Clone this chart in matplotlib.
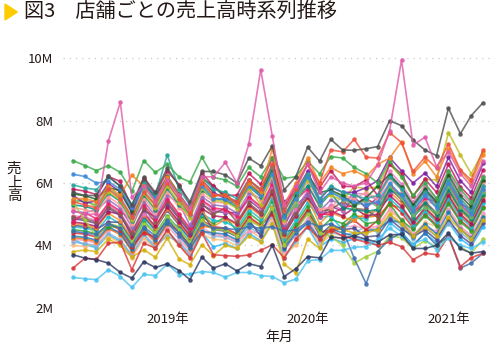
import matplotlib
matplotlib.use("Agg")
import matplotlib.pyplot as plt
import matplotlib.dates as mdates
import pandas as pd
from matplotlib.patches import Polygon
from matplotlib.ticker import FuncFormatter

# monthly sales per store, in millions (Apr 2018 - Mar 2021)
months = pd.date_range("2018-04-01", periods=36, freq="MS") + pd.offsets.MonthEnd(0)

green_top = [6.72, 6.56, 6.40, 6.56, 6.34, 5.73, 6.72, 6.34, 6.60, 6.19, 6.03, 6.83,
             6.18, 6.10, 5.90, 6.50, 6.20, 6.80, 6.15, 6.20, 6.70, 6.30, 6.85, 6.80,
             6.50, 6.30, 6.00, 6.70, 6.20, 5.60, 6.00, 5.50, 6.40, 5.80, 5.40, 6.20]
blue_top = [6.28, 6.21, 6.00, 6.05, 5.80, 5.20, 5.90, 5.50, 6.10, 5.60, 5.10, 5.90,
            5.50, 5.50, 5.30, 5.90, 5.60, 6.30, 4.90, 5.50, 6.20, 5.40, 5.70, 5.50,
            5.40, 5.30, 5.40, 6.00, 5.60, 5.10, 5.60, 5.20, 6.00, 5.40, 5.00, 5.80]
teal = [5.94, 5.84, 5.79, 6.20, 5.90, 5.30, 6.00, 5.60, 6.90, 5.80, 5.30, 6.20,
        5.80, 5.70, 5.50, 6.10, 5.80, 6.50, 5.10, 5.70, 6.30, 5.50, 5.90, 5.70,
        5.60, 5.50, 5.60, 6.20, 5.80, 5.20, 5.70, 5.30, 6.10, 5.50, 5.10, 5.90]
pink_spike = [5.10, 5.00, 5.00, 7.35, 8.59, 5.55, 5.90, 5.40, 6.10, 5.60, 5.20, 6.20,
              6.20, 6.66, 6.00, 7.24, 9.64, 7.51, 5.30, 5.90, 6.60, 5.70, 6.20, 6.00,
              5.90, 6.00, 6.58, 7.68, 9.95, 7.22, 7.47, 6.53, 7.00, 6.30, 5.90, 6.70]
gray_top = [5.70, 5.60, 5.60, 6.21, 5.90, 5.30, 6.18, 5.70, 6.48, 5.90, 5.40, 6.37,
            6.37, 6.26, 6.00, 6.80, 6.55, 7.19, 5.78, 6.20, 7.15, 6.70, 7.40, 7.06,
            7.05, 7.10, 7.17, 8.00, 7.84, 7.38, 7.06, 6.88, 8.40, 7.58, 8.16, 8.58]
red_top = [5.40, 5.30, 5.20, 5.80, 5.50, 4.90, 5.70, 5.30, 6.00, 5.50, 5.00, 6.00,
           5.60, 5.60, 5.40, 6.10, 5.80, 6.60, 5.10, 5.80, 6.60, 6.00, 7.06, 7.00,
           7.40, 6.83, 6.80, 7.62, 7.30, 6.37, 6.83, 6.48, 7.26, 6.42, 6.10, 7.06]
orange = [5.50, 5.50, 5.40, 5.90, 5.60, 6.25, 5.90, 5.40, 6.20, 5.60, 5.10, 6.10,
          5.60, 5.60, 5.30, 6.00, 5.70, 7.10, 5.30, 6.00, 6.80, 6.00, 6.50, 6.30,
          6.40, 6.20, 6.60, 6.80, 7.33, 6.30, 6.70, 6.20, 7.10, 6.40, 6.00, 6.90]
navy = [3.70, 3.59, 3.54, 3.43, 3.13, 2.95, 3.48, 3.29, 3.41, 3.19, 2.90, 3.62,
        3.27, 3.41, 3.18, 3.41, 3.32, 4.00, 3.00, 3.25, 3.64, 3.60, 4.27, 4.23,
        4.30, 4.20, 4.10, 4.34, 4.35, 3.90, 3.90, 4.00, 4.40, 3.90, 3.75, 3.80]
light_blue = [2.97, 2.93, 2.90, 3.22, 3.00, 2.65, 3.07, 3.03, 3.40, 3.06, 3.08, 3.16,
              3.13, 2.98, 3.13, 3.13, 3.03, 3.00, 2.80, 2.92, 3.51, 3.54, 3.84, 3.84,
              3.94, 3.96, 4.20, 4.55, 4.30, 4.05, 4.20, 3.86, 4.25, 4.00, 3.90, 4.10]
red_low = [3.27, 3.59, 3.55, 4.07, 4.10, 3.22, 4.07, 3.91, 4.50, 4.00, 3.60, 4.40,
           3.70, 3.67, 3.65, 3.69, 3.84, 4.02, 3.60, 4.20, 4.60, 4.20, 4.50, 4.30,
           4.20, 4.10, 4.00, 4.10, 3.96, 3.54, 3.75, 3.70, 4.30, 3.32, 3.60, 3.75]
steel = [4.45, 4.40, 4.35, 4.70, 4.55, 4.00, 4.60, 4.30, 4.80, 4.40, 4.00, 4.70,
         4.55, 4.55, 4.50, 4.60, 4.55, 4.60, 4.45, 4.50, 4.75, 4.60, 4.70, 4.50,
         3.59, 2.77, 3.80, 4.20, 4.40, 4.00, 4.40, 4.00, 4.29, 3.27, 3.43, 3.75]
lime = [5.40, 4.80, 4.30, 4.70, 4.60, 4.10, 4.70, 4.40, 4.90, 4.50, 4.10, 4.80,
        4.50, 4.50, 4.30, 4.80, 4.60, 5.20, 4.00, 4.50, 5.00, 4.40, 4.29, 4.00,
        3.43, 3.64, 3.80, 4.30, 4.25, 3.90, 4.15, 3.95, 4.30, 3.95, 3.75, 4.20]
gold = [3.80, 3.85, 3.80, 4.20, 4.00, 3.62, 3.86, 3.62, 4.23, 3.56, 3.38, 4.02,
        3.67, 4.00, 3.90, 4.30, 4.10, 4.70, 3.40, 3.11, 4.20, 3.90, 4.60, 4.50,
        4.40, 4.40, 4.50, 5.00, 4.70, 4.30, 4.60, 4.30, 4.90, 4.50, 4.20, 4.80]

store_a = [5.80, 5.74, 5.63, 6.21, 6.05, 5.22, 6.15, 5.63, 6.38, 5.95, 5.28, 6.32,
           5.90, 5.60, 5.61, 6.31, 5.96, 6.79, 5.19, 5.90, 6.61, 5.85, 6.40, 5.90,
           5.88, 6.10, 5.60, 6.60, 6.30, 5.58, 6.12, 5.70, 6.60, 5.88, 5.52, 6.42]
store_b = [5.60, 5.35, 5.43, 5.99, 5.71, 5.04, 5.94, 5.60, 6.16, 5.60, 5.10, 6.10,
           5.70, 5.50, 5.42, 6.10, 5.76, 6.56, 5.40, 5.70, 6.38, 5.47, 5.87, 5.70,
           5.70, 5.85, 6.08, 6.82, 6.39, 6.00, 6.32, 5.89, 6.82, 6.08, 5.70, 6.63]
store_c = [5.65, 5.59, 5.48, 5.85, 5.76, 5.09, 6.10, 5.48, 6.22, 5.65, 5.14, 6.16,
           5.90, 5.54, 5.32, 5.99, 5.66, 6.44, 4.93, 5.60, 6.27, 5.70, 5.77, 5.60,
           5.30, 5.53, 5.90, 6.27, 5.87, 5.30, 5.81, 5.42, 6.27, 5.59, 5.24, 6.10]
store_d = [5.20, 5.15, 5.04, 5.56, 5.30, 4.68, 5.51, 5.04, 5.72, 5.20, 4.90, 5.67,
           5.40, 5.35, 5.40, 5.78, 5.45, 6.21, 4.75, 5.40, 6.05, 5.18, 5.20, 5.60,
           5.49, 5.70, 5.49, 6.16, 5.77, 5.21, 5.40, 5.32, 6.16, 5.49, 5.15, 5.99]
store_e = [5.10, 5.05, 5.15, 5.46, 5.20, 4.59, 5.41, 4.95, 5.61, 5.35, 4.64, 5.56,
           5.30, 5.25, 5.04, 5.67, 5.50, 6.10, 4.66, 5.30, 5.60, 5.09, 5.46, 5.30,
           5.70, 5.34, 5.39, 5.70, 5.67, 5.12, 5.61, 5.23, 6.05, 5.39, 5.06, 5.89]
store_f = [4.90, 4.85, 4.75, 5.24, 5.00, 4.41, 5.19, 4.75, 5.39, 4.90, 4.46, 5.34,
           5.00, 5.20, 4.75, 5.35, 5.05, 5.75, 4.40, 5.00, 5.60, 5.10, 5.15, 5.40,
           5.19, 5.14, 4.90, 5.83, 5.46, 4.93, 5.41, 5.04, 5.83, 5.19, 4.88, 5.67]
store_g = [4.75, 5.05, 4.85, 5.35, 5.10, 4.80, 5.30, 4.85, 5.50, 5.00, 4.55, 5.45,
           5.20, 5.15, 4.94, 5.56, 5.25, 5.98, 4.58, 5.45, 5.82, 4.99, 5.00, 5.20,
           5.29, 5.50, 5.29, 5.94, 5.56, 5.02, 5.51, 5.40, 5.94, 5.29, 4.97, 5.78]
store_h = [4.70, 4.65, 4.56, 5.03, 4.79, 4.23, 4.98, 4.56, 5.17, 4.70, 4.28, 5.12,
           4.60, 4.85, 4.66, 5.24, 4.95, 5.64, 4.31, 5.20, 5.49, 4.70, 5.05, 4.90,
           4.80, 5.04, 5.10, 5.72, 5.36, 5.10, 5.30, 4.94, 5.72, 5.10, 4.78, 5.56]
store_i = [4.60, 4.55, 4.46, 4.92, 4.69, 4.14, 4.88, 4.46, 4.80, 4.60, 4.19, 5.01,
           4.80, 4.75, 4.56, 5.14, 4.85, 5.52, 4.22, 4.80, 5.38, 4.90, 4.94, 4.50,
           4.90, 4.85, 5.20, 5.50, 5.15, 4.65, 5.10, 4.75, 5.50, 4.90, 4.60, 5.35]
store_j = [4.50, 4.46, 4.37, 4.60, 4.59, 4.05, 4.77, 4.37, 4.95, 4.50, 4.10, 4.91,
           4.70, 4.90, 4.47, 5.03, 4.75, 5.41, 4.14, 4.70, 5.26, 4.51, 4.84, 4.70,
           5.00, 4.70, 4.75, 5.34, 4.80, 4.51, 4.95, 4.61, 5.34, 4.75, 4.46, 5.19]
store_k = [4.40, 4.36, 4.27, 4.71, 4.49, 3.96, 4.40, 4.27, 4.84, 4.40, 4.00, 4.80,
           4.60, 4.55, 4.37, 4.92, 4.65, 5.00, 4.05, 4.60, 5.15, 4.42, 4.50, 4.60,
           4.80, 4.50, 4.80, 5.39, 5.05, 4.56, 5.00, 4.66, 5.39, 4.80, 4.51, 5.24]
store_l = [4.30, 4.26, 4.17, 4.60, 4.39, 3.87, 4.56, 4.17, 4.73, 4.30, 3.91, 4.45,
           4.40, 4.36, 4.18, 4.71, 4.44, 5.06, 3.87, 4.40, 4.70, 4.22, 4.53, 4.40,
           4.30, 4.46, 4.51, 4.80, 4.74, 4.28, 4.69, 4.37, 5.06, 4.51, 4.23, 4.92]
store_m = [4.20, 4.16, 4.07, 4.49, 4.45, 3.78, 4.45, 4.07, 4.62, 4.20, 3.82, 4.58,
           4.35, 4.31, 4.13, 4.45, 4.39, 5.00, 3.83, 4.35, 4.87, 4.18, 4.48, 4.60,
           4.61, 4.56, 4.61, 5.17, 4.84, 4.37, 4.55, 4.47, 5.17, 4.61, 4.32, 5.03]
store_n = [4.10, 4.06, 3.98, 4.39, 4.18, 3.69, 4.35, 3.98, 4.30, 4.10, 3.73, 4.47,
           4.30, 4.26, 4.09, 4.60, 4.34, 4.95, 4.00, 4.30, 4.82, 4.13, 4.43, 4.30,
           4.41, 4.60, 4.41, 4.95, 4.64, 4.19, 4.59, 4.28, 4.70, 4.41, 4.14, 4.82]
store_o = [4.00, 3.96, 4.05, 4.28, 4.08, 3.60, 4.24, 3.88, 4.40, 4.00, 3.64, 4.36,
           4.20, 4.16, 3.99, 4.49, 4.24, 4.83, 3.70, 4.00, 4.70, 4.03, 4.33, 4.20,
           4.30, 4.51, 4.56, 5.12, 4.79, 4.32, 4.74, 4.60, 5.12, 4.56, 4.28, 4.98]
store_p = [4.85, 4.80, 4.70, 5.19, 4.95, 4.37, 5.14, 4.90, 5.34, 4.85, 4.41, 5.29,
           5.10, 5.05, 5.05, 5.46, 5.15, 5.87, 4.49, 5.10, 5.71, 4.90, 5.25, 5.10,
           5.54, 5.20, 5.54, 6.22, 5.82, 5.25, 5.76, 5.37, 6.22, 5.30, 5.20, 6.05]
store_q = [5.30, 5.25, 5.14, 5.67, 5.41, 4.77, 5.62, 5.14, 5.83, 5.30, 5.00, 5.78,
           5.50, 5.45, 5.23, 5.89, 5.56, 6.33, 4.84, 5.50, 5.90, 5.28, 5.67, 5.20,
           5.15, 5.09, 5.15, 5.78, 5.60, 4.88, 5.36, 4.99, 5.78, 5.15, 4.83, 5.62]
store_r = [5.35, 5.50, 5.19, 5.72, 5.46, 4.82, 5.67, 5.19, 5.89, 5.35, 4.87, 5.83,
           5.45, 5.40, 5.18, 5.83, 5.30, 6.27, 4.80, 5.45, 6.10, 5.45, 5.61, 5.45,
           5.88, 5.82, 5.88, 6.60, 6.18, 5.58, 6.12, 6.10, 7.62, 6.90, 6.30, 7.00]
store_s = [4.95, 4.90, 4.80, 5.30, 5.05, 4.46, 5.00, 4.80, 5.45, 4.95, 4.50, 5.40,
           5.15, 5.10, 4.89, 5.51, 5.20, 5.92, 4.75, 5.15, 5.77, 4.94, 5.30, 5.15,
           5.68, 5.63, 5.45, 6.38, 5.97, 5.39, 5.92, 5.51, 6.38, 5.68, 5.34, 6.21]
store_t = [4.65, 4.60, 4.51, 4.75, 4.74, 4.19, 4.93, 4.51, 5.12, 4.65, 4.23, 5.07,
           4.50, 4.46, 4.28, 4.82, 4.30, 5.18, 3.96, 4.50, 5.04, 4.32, 4.64, 4.50,
           4.55, 4.27, 4.31, 4.84, 4.53, 4.30, 4.49, 4.18, 4.84, 4.31, 4.05, 4.71]
store_u = [4.25, 4.21, 4.12, 4.55, 4.34, 3.83, 4.51, 4.12, 4.68, 4.45, 3.87, 4.63,
           4.55, 4.50, 4.32, 4.87, 4.60, 5.23, 4.00, 4.55, 5.10, 4.37, 4.45, 4.55,
           4.95, 4.90, 4.95, 5.30, 5.20, 4.70, 5.15, 4.80, 5.56, 4.95, 4.65, 5.40]
store_v = [5.45, 5.40, 5.29, 5.83, 5.56, 4.91, 5.78, 5.29, 6.00, 5.45, 4.96, 5.94,
           5.55, 5.70, 5.27, 5.94, 5.61, 6.38, 4.88, 5.30, 6.22, 5.33, 5.72, 5.55,
           5.24, 5.45, 5.24, 5.89, 5.51, 4.98, 5.20, 5.08, 5.89, 5.24, 4.92, 5.72]
store_w = [4.75, 4.70, 4.61, 5.08, 5.00, 4.28, 5.04, 4.61, 5.23, 4.75, 4.32, 5.18,
           4.95, 4.90, 4.70, 5.30, 5.00, 5.69, 4.36, 4.95, 5.54, 4.95, 5.10, 4.95,
           5.20, 4.95, 5.00, 5.61, 5.25, 4.74, 5.20, 4.85, 5.61, 5.00, 4.69, 5.46]
store_x = [4.20, 4.01, 3.93, 4.33, 4.13, 3.65, 4.29, 3.93, 4.46, 4.05, 3.69, 4.41,
           3.95, 4.06, 3.90, 4.39, 4.14, 4.72, 3.61, 4.10, 4.59, 3.94, 4.22, 4.10,
           4.21, 4.17, 4.00, 4.73, 4.43, 4.00, 4.39, 4.09, 4.73, 4.21, 3.96, 4.60]

series = [
    (store_x, "#29b6f6"), (store_o, "#ffbb78"), (store_n, "#7fb3d5"),
    (store_m, "#f49ac1"), (store_u, "#ef6c00"), (store_l, "#1f77b4"),
    (store_k, "#d62728"), (store_j, "#2ca02c"), (store_i, "#17becf"),
    (store_t, "#4a4a8a"), (store_h, "#f28e2b"), (store_w, "#ad1457"),
    (store_p, "#6a3d9a"), (store_s, "#e377c2"), (store_f, "#8c564b"),
    (store_g, "#e91e63"), (store_e, "#9467bd"), (store_d, "#ff9896"),
    (store_q, "#00897b"), (store_r, "#bcbd22"), (store_v, "#66bb6a"),
    (store_b, "#7b1fa2"), (store_c, "#1b5e20"), (store_a, "#c2185b"),
    (gold, "#d6b00c"), (lime, "#a3cf3c"), (steel, "#3d6fb0"),
    (red_low, "#d8383a"), (light_blue, "#4cc3f0"), (navy, "#2e3b63"),
    (teal, "#26a69a"), (blue_top, "#3b8ad9"), (green_top, "#3aaa4a"),
    (orange, "#f5821f"), (red_top, "#f0503c"), (gray_top, "#505050"),
    (pink_spike, "#e05aa8"),
]

plt.rcParams["font.family"] = ["Noto Sans CJK JP", "DejaVu Sans"]
text_color = "#231815"

fig = plt.figure(figsize=(5.0, 3.53), dpi=100)
ax = fig.add_axes([0.126, 0.1283, 0.864, 0.7241])

for values, color in series:
    ax.plot(months, values, color=color, lw=1.2, marker="o", ms=2.3,
            alpha=0.8)

ax.set_ylim(2.0, 10.2)
ax.set_xlim(months[0] - pd.Timedelta(days=26), months[-1] + pd.Timedelta(days=31))
ax.set_yticks([2, 4, 6, 8, 10])
ax.yaxis.set_major_formatter(FuncFormatter(lambda v, p: f"{v:.0f}M"))
ax.xaxis.set_major_locator(mdates.YearLocator())
ax.xaxis.set_major_formatter(
    FuncFormatter(lambda v, p: f"{mdates.num2date(v).year}年"))

ax.yaxis.grid(True, color="#c8c8c8", linestyle=(0, (1, 4)), linewidth=0.9)
ax.xaxis.grid(False)
ax.set_axisbelow(True)
for s in ax.spines.values():
    s.set_visible(False)
ax.tick_params(axis="y", length=0, pad=7, labelsize=9.5, labelcolor=text_color)
ax.tick_params(axis="x", length=0, pad=4, labelsize=9.5, labelcolor=text_color)

ax.set_ylabel("売\n上\n高", rotation=0, fontsize=10.5, color=text_color,
              linespacing=1.0, va="center", ha="center")
ax.yaxis.set_label_coords(-0.113, 0.49)
ax.set_xlabel("年月", fontsize=10, color=text_color, va="center")
ax.xaxis.set_label_coords(0.5, -0.115)

# title with yellow marker
fig.patches.append(Polygon([(5 / 500, 1 - 4 / 353), (5 / 500, 1 - 20 / 353),
                            (17.3 / 500, 1 - 12 / 353)], closed=True,
                           transform=fig.transFigure, color="#ffcc00"))
fig.text(24 / 500, 1 - 11 / 353, "図3　店舗ごとの売上高時系列推移",
         fontsize=14.5, color=text_color, va="center", ha="left")

fig.savefig("out.png", dpi=100)
